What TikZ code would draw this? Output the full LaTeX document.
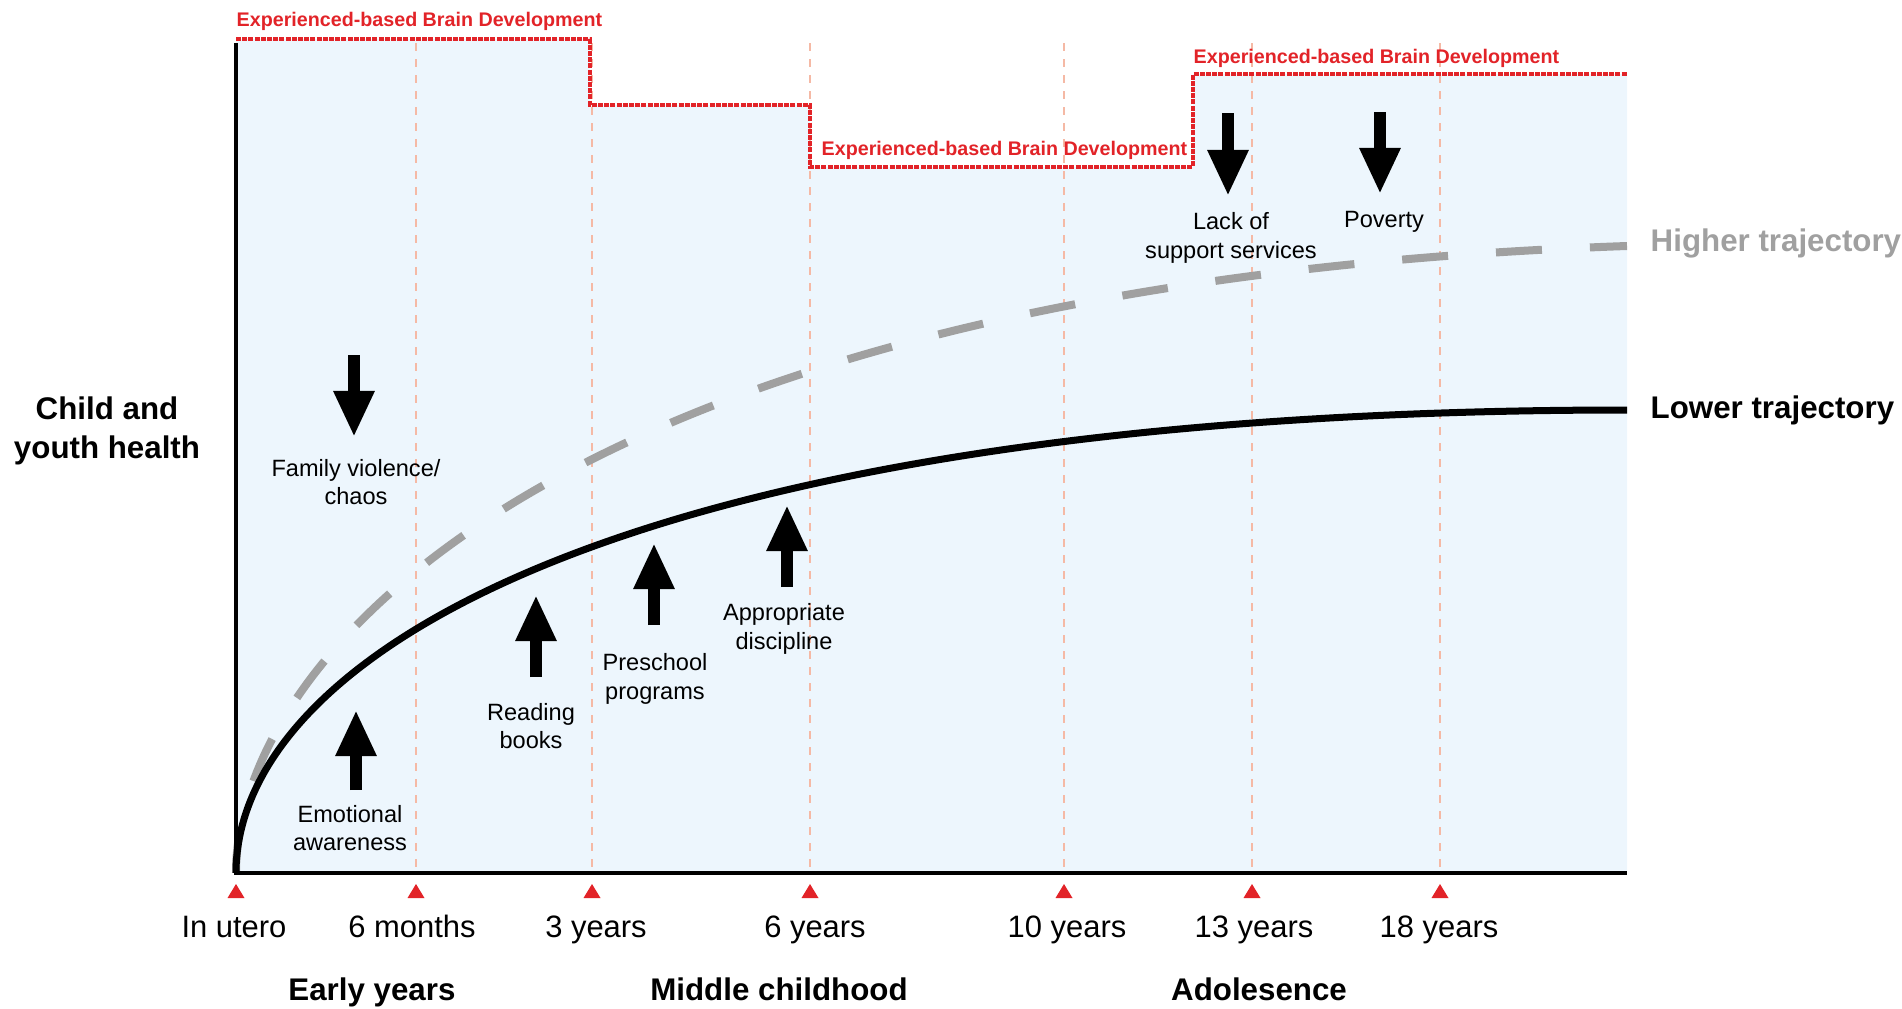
\documentclass[tikz,border=0pt]{standalone}
\usepackage{fontspec}
\setmainfont{Liberation Sans}
\usetikzlibrary{arrows.meta}
\definecolor{bgblue}{RGB}{237,246,253}
\definecolor{stepred}{RGB}{226,35,40}
\definecolor{gridsalmon}{RGB}{245,185,165}
\definecolor{higray}{RGB}{160,160,160}
\begin{document}
\begin{tikzpicture}[x=0.01cm,y=-0.01cm,
  ticklabel/.style={font=\fontsize{8.8}{10.6}\selectfont, anchor=base, inner sep=0pt},
  biglabel/.style={font=\fontsize{8.9}{11.1}\selectfont\bfseries, inner sep=0pt},
  smalllabel/.style={font=\fontsize{6.7}{8.1}\selectfont, align=center, inner sep=0pt},
  redlabel/.style={font=\fontsize{5.6}{6.7}\selectfont\bfseries, text=stepred, anchor=base west, inner sep=0pt},
  gridline/.style={draw=gridsalmon, line width=0.02cm, dash pattern=on 0.08cm off 0.08cm},
  stepline/.style={draw=stepred, line width=0.045cm, dash pattern=on 0.05cm off 0.012cm},
  blockarrow/.style={line width=0.12cm, -{Triangle[width=0.38cm,length=0.46cm]}},
  tickmark/.style={fill=stepred},
]
\useasboundingbox (0,0) rectangle (1902,1009);

% light blue region under the step line
\fill[bgblue] (236,39) -- (590,39) -- (590,105) -- (810,105) -- (810,167)
  -- (1193,167) -- (1193,74) -- (1627,74) -- (1627,873) -- (236,873) -- cycle;

% vertical dashed grid lines
\foreach \gx in {416,592,810,1064,1252,1440}{
  \draw[gridline] (\gx,43) -- (\gx,873);
}

% red step line
\draw[stepline] (236,39) -- (590,39) -- (590,105) -- (810,105) -- (810,167)
  -- (1193,167) -- (1193,74) -- (1627,74);

% red labels
\node[redlabel] (ebd1) at (236,27) {Experienced-based Brain Development};
\node[redlabel] (ebd2) at (821,155) {Experienced-based Brain Development};
\node[redlabel] (ebd3) at (1193,64) {Experienced-based Brain Development};

% higher trajectory (dashed gray)
\draw[higray, line width=0.08cm, dash pattern=on 0.46cm off 0.48cm]
  (236,873) .. controls (236,653) and (566,283) .. (1627,246);

% lower trajectory (solid black)
\draw[black, line width=0.07cm]
  (236,873) .. controls (236,653) and (636,410) .. (1627,410);

% axes
\draw[black, line width=0.04cm] (236,43) -- (236,873) -- (1627,873);

% red triangles on the time axis
\foreach \tx in {236,416,592,810,1064,1252,1440}{
  \fill[tickmark] (\tx-8.5,898) -- (\tx+8.5,898) -- (\tx,884) -- cycle;
}

% tick labels
\node[ticklabel] (l0) at (234,937) {In utero};
\node[ticklabel] (l1) at (412,937) {6 months};
\node[ticklabel] (l2) at (596,937) {3 years};
\node[ticklabel] (l3) at (815,937) {6 years};
\node[ticklabel] (l4) at (1067,937) {10 years};
\node[ticklabel] (l5) at (1254,937) {13 years};
\node[ticklabel] (l6) at (1439,937) {18 years};

% period labels
\node[biglabel, anchor=base] (p1) at (372,1000) {Early years};
\node[biglabel, anchor=base] (p2) at (779,1000) {Middle childhood};
\node[biglabel, anchor=base] (p3) at (1259,1000) {Adolesence};

% y-axis label
\node[biglabel, align=center] (ylab) at (107,431) {Child and\\youth health};

% legend labels
\node[biglabel, anchor=base west, text=higray] (hi) at (1650,251) {Higher trajectory};
\node[biglabel, anchor=base west] (lo) at (1650,418) {Lower trajectory};

% influence labels
\node[smalllabel] (fv) at (356,482) {Family violence/\\chaos};
\node[smalllabel] (ea) at (350,828) {Emotional\\awareness};
\node[smalllabel] (rb) at (531,726) {Reading\\books};
\node[smalllabel] (pp) at (655,679) {Preschool\\programs};
\node[smalllabel] (ad) at (784,629) {Appropriate\\discipline};
\node[smalllabel] (ls) at (1231,238) {Lack of\\support services};
\node[smalllabel, anchor=base] (pv) at (1384,227) {Poverty};

% arrow end points
\coordinate (fvT) at (354,355); \coordinate (fvH) at (354,437);
\coordinate (eaT) at (356,790); \coordinate (eaH) at (356,710);
\coordinate (rbT) at (536,677); \coordinate (rbH) at (536,595);
\coordinate (ppT) at (654,625); \coordinate (ppH) at (654,543);
\coordinate (adT) at (787,587); \coordinate (adH) at (787,505);
\coordinate (lsT) at (1228,113); \coordinate (lsH) at (1228,196);
\coordinate (pvT) at (1380,112); \coordinate (pvH) at (1380,194);

\draw[blockarrow] (fvT) -- (fvH);
\draw[blockarrow] (eaT) -- (eaH);
\draw[blockarrow] (rbT) -- (rbH);
\draw[blockarrow] (ppT) -- (ppH);
\draw[blockarrow] (adT) -- (adH);
\draw[blockarrow] (lsT) -- (lsH);
\draw[blockarrow] (pvT) -- (pvH);
\end{tikzpicture}
\end{document}
